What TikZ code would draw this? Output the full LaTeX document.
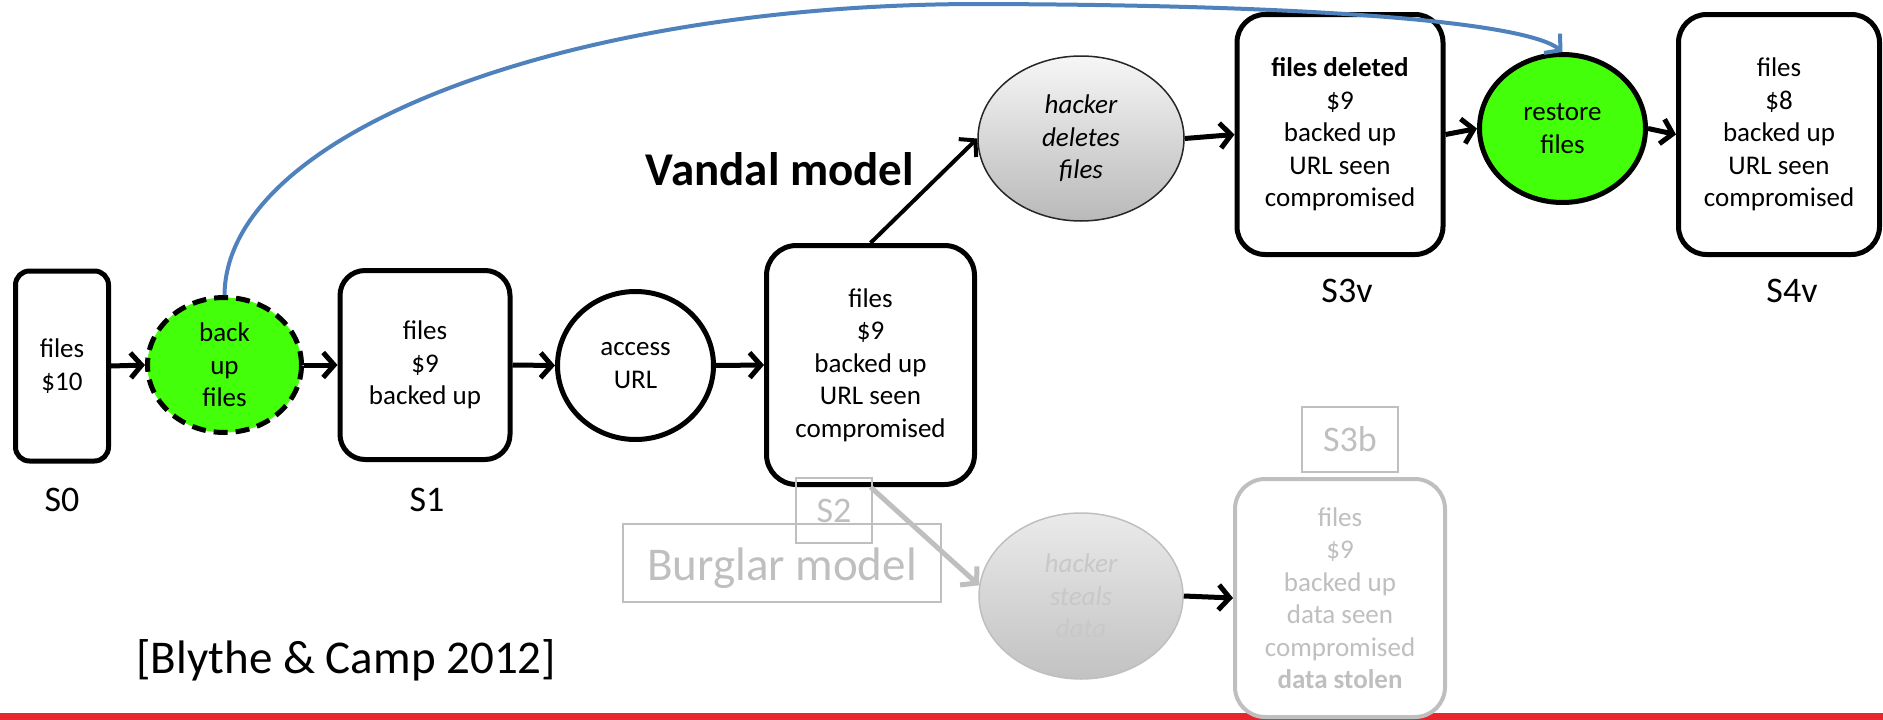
\documentclass[tikz,border=0pt]{standalone}
\usepackage{fontspec}
\setmainfont{Carlito}
\usetikzlibrary{arrows.meta,shapes.geometric,calc}
\definecolor{bgreen}{RGB}{68,255,10}
\definecolor{pblue}{RGB}{79,129,189}
\definecolor{pred}{RGB}{232,36,44}
\definecolor{lgray}{RGB}{191,191,191}
\definecolor{tgray}{RGB}{200,200,200}
\tikzset{
  body/.style={font=\fontsize{27}{32.5}\selectfont},
  state/.style={body, draw, line width=5pt, rounded corners=25pt, fill=white, align=center, inner sep=0pt},
  action/.style={body, ellipse, draw, line width=5pt, align=center, inner sep=0pt},
  slabel/.style={font=\fontsize{36}{40}\selectfont, anchor=base},
  title/.style={font=\fontsize{47}{56}\selectfont, anchor=base},
  tagbox/.style={draw=lgray, line width=1.5pt, inner sep=0pt},
  arr/.style={line width=5pt, -{Straight Barb[length=11pt,width=25pt]}},
}
\begin{document}
\begin{tikzpicture}[x=1pt,y=-1pt]
\useasboundingbox (0,0) rectangle (1883,720);
\fill[pred] (0,713) rectangle (1883,720);

% main chain
\node[state, rounded corners=14pt, minimum width=93pt, minimum height=190pt] (s0) at (62,366) {files\\\$10};
\node[action, fill=bgreen, dash pattern=on 14pt off 8pt, minimum width=154pt, minimum height=135pt] (bu) at (224.5,365) {back\\up\\files};
\node[state, minimum width=170pt, minimum height=189pt] (s1) at (425,365) {files\\\$9\\backed up};
\node[action, fill=white, minimum width=156pt, minimum height=148pt] (acc) at (635.5,365.5) {access\\URL};
\node[state, rounded corners=30pt, minimum width=208pt, minimum height=239pt] (s2) at (870.5,365) {files\\\$9\\backed up\\URL seen\\compromised};

% vandal branch
\node[action, line width=1.5pt, draw=black!85, top color={rgb,255:red,246;green,246;blue,246}, bottom color={rgb,255:red,185;green,185;blue,185}, font=\fontsize{27}{32.5}\selectfont\itshape, minimum width=206pt, minimum height=165pt] (hdel) at (1081,138.5) {hacker\\deletes\\files};
\node[state, rounded corners=28pt, minimum width=206pt, minimum height=240pt] (s3v) at (1340,134.5) {\textbf{files deleted}\\\$9\\backed up\\URL seen\\compromised};
\node[action, fill=bgreen, minimum width=166pt, minimum height=148pt] (rest) at (1562.5,128.5) {restore\\files};
\node[state, rounded corners=28pt, minimum width=201pt, minimum height=240pt] (s4v) at (1779,134.5) {files\\\$8\\backed up\\URL seen\\compromised};

% burglar branch
\node[action, draw=lgray, line width=1.5pt, text=tgray, top color={rgb,255:red,234;green,234;blue,234}, bottom color={rgb,255:red,194;green,194;blue,194}, font=\fontsize{27}{32.5}\selectfont\itshape, minimum width=204pt, minimum height=166pt] (hst) at (1081,596) {hacker\\steals\\data};
\node[state, draw=lgray, line width=4pt, rounded corners=30pt, text=lgray, minimum width=210pt, minimum height=238pt] (s3b) at (1340,598) {files\\\$9\\backed up\\data seen\\compromised\\\textbf{data stolen}};

% state labels
\node[slabel] (l0) at (62,511) {S0};
\node[slabel] (l1) at (427,511) {S1};
\node[slabel] (l3v) at (1347,302) {S3v};
\node[slabel] (l4v) at (1792,302) {S4v};
\node[tagbox, minimum width=76pt, minimum height=65pt, text=lgray, font=\fontsize{36}{40}\selectfont] (l2) at (834,510.5) {S2};
\node[tagbox, minimum width=96pt, minimum height=65pt, text=lgray, font=\fontsize{36}{40}\selectfont] (l3b) at (1350,439.5) {S3b};

% titles
\node[title, font=\fontsize{47}{56}\selectfont\bfseries] (vandal) at (780,185) {Vandal model};
\node[tagbox, minimum width=318pt, minimum height=78pt] (burgbox) at (782,563) {};
\node[title, text=lgray] (burg) at (782,580) {Burglar model};
\node[title, anchor=base west] (cite) at (133,673) {[Blythe \& Camp 2012]};

% connectors
\draw[arr] (s0.east) -- (bu.west);
\draw[arr] (bu.east) -- (s1.west);
\draw[arr] (s1.east) -- (acc.west);
\draw[arr] (acc.east) -- (s2.west);
\draw[arr, line width=4pt] (s2.north) -- (hdel.west);
\draw[arr] (hdel.east) -- (s3v.west);
\draw[arr] (s3v.east) -- (rest.west);
\draw[arr] (rest.east) -- (s4v.west);
\draw[arr, draw=lgray] (s2.south) -- (hst.174);
\draw[arr] (hst.east) -- (s3b.west);
\draw[arr, draw=pblue, line width=4pt] (bu.north) .. controls (226,134) and (563,4) .. (980,4) .. controls (1350,5) and (1530,25) .. (rest.north);
\end{tikzpicture}
\end{document}
